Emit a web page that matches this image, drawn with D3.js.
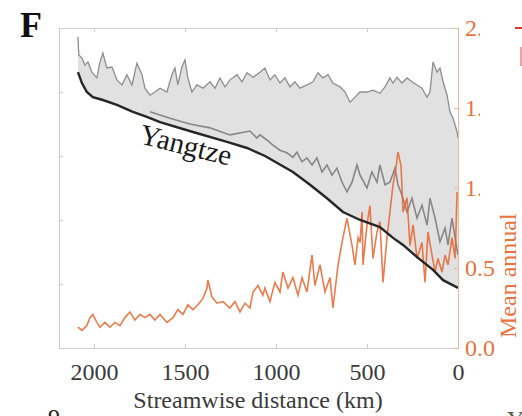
<!DOCTYPE html>
<html>
<head>
<meta charset="utf-8">
<script src="https://cdn.jsdelivr.net/npm/d3@7"></script>
<style>
  html, body { margin: 0; padding: 0; background: #fff; }
  svg { display: block; font-family: "Liberation Serif", "Times New Roman", serif; }
</style>
</head>
<body>
<div id="chart"></div>
<script>
// river long profile (left axis, unlabelled)
const profileKm  = [2088, 2066, 2039, 2006, 1951, 1874, 1786, 1709, 1637, 1456, 1269, 1159, 1060, 907, 813, 720, 632, 538, 429, 357, 302, 225, 137, 82, 0];
const profileVal = [4.31, 4.14, 4.00, 3.92, 3.875, 3.80, 3.69, 3.61, 3.53, 3.375, 3.22, 3.125, 3.0, 2.75, 2.55, 2.34, 2.125, 2.0, 1.89, 1.72, 1.61, 1.42, 1.22, 1.06, 0.94];

// upper envelope (grey)
const upperKm  = [2088, 2083, 2066, 2050, 2033, 2011, 1984, 1967, 1951, 1929, 1901, 1874, 1846, 1819, 1791, 1764, 1736, 1720, 1692, 1665,
                  1637, 1599, 1572, 1555, 1539, 1517, 1500, 1484, 1462, 1434, 1401, 1363, 1335, 1308, 1280, 1253, 1214, 1187, 1159, 1126,
                  1088, 1061, 1033, 1006, 978, 951, 923, 896, 868, 830, 797, 769, 742, 714, 687, 648, 621, 593, 566, 538,
                  500, 467, 429, 401, 374, 357, 335, 308, 280, 253, 225, 198, 170, 154, 137, 115, 99, 82, 60, 44, 27, 5, 0];
const upperVal = [4.86, 4.58, 4.53, 4.42, 4.47, 4.31, 4.22, 4.47, 4.61, 4.375, 4.39, 4.19, 4.11, 4.27, 4.11, 4.45, 4.27, 4.06, 3.95, 4.0,
                  4.06, 4.0, 4.27, 4.375, 4.11, 4.39, 4.5, 4.22, 4.0, 4.11, 4.06, 4.16, 4.06, 4.22, 4.08, 4.19, 4.27, 4.16, 4.30, 4.23,
                  4.31, 4.375, 4.19, 4.27, 4.14, 4.22, 4.08, 4.16, 4.06, 4.11, 4.16, 4.30, 4.22, 4.27, 4.14, 4.08, 4.0, 3.84, 3.92, 4.0,
                  4.0, 4.03, 3.98, 4.08, 4.22, 4.14, 4.23, 4.14, 4.22, 4.16, 4.11, 4.06, 3.92, 4.0, 4.47, 4.31, 4.375, 4.16, 3.95, 3.69, 3.59, 3.375, 3.28];

// lower grey curve
const lowerKm  = [1692, 1583, 1473, 1363, 1253, 1143, 1105, 1088, 1050, 1017, 978, 940, 907, 885, 857, 830, 802, 775, 747, 720,
                  692, 665, 637, 610, 582, 555, 538, 500, 473, 445, 429, 401, 374, 346, 330, 308, 280, 253, 225, 198,
                  170, 154, 126, 99, 71, 55, 33, 16, 0];
const lowerVal = [3.69, 3.59, 3.5, 3.44, 3.33, 3.39, 3.28, 3.33, 3.25, 3.17, 3.09, 3.05, 2.98, 3.06, 2.91, 2.97, 2.86, 2.97, 2.75, 2.86,
                  2.70, 2.81, 2.59, 2.44, 2.59, 2.86, 2.70, 2.5, 2.75, 2.59, 2.86, 2.55, 2.59, 2.81, 2.55, 2.39, 2.125, 2.34, 2.03, 2.23,
                  1.92, 2.34, 2.03, 1.66, 1.875, 1.61, 2.03, 1.72, 1.45];

// mean annual series (right axis, orange)
const annualKm  = [2088, 2066, 2039, 2022, 2006, 1984, 1967, 1940, 1912, 1885, 1857, 1830, 1802, 1775, 1747, 1720, 1692, 1665, 1637, 1599,
                   1566, 1539, 1511, 1484, 1456, 1429, 1401, 1379, 1374, 1352, 1324, 1291, 1253, 1225, 1198, 1170, 1143, 1126, 1099, 1072,
                   1061, 1033, 1006, 978, 962, 934, 907, 879, 857, 830, 802, 786, 758, 731, 703, 687, 659, 632, 610, 582,
                   566, 549, 538, 527, 522, 500, 484, 467, 445, 429, 412, 390, 374, 357, 341, 330, 313, 302, 280, 264,
                   247, 225, 198, 181, 165, 143, 126, 110, 88, 71, 55, 33, 16, 5];
const annualVal = [0.13, 0.11, 0.14, 0.19, 0.21, 0.16, 0.13, 0.16, 0.13, 0.16, 0.14, 0.19, 0.225, 0.175, 0.21, 0.19, 0.21, 0.175, 0.21, 0.16,
                   0.19, 0.24, 0.21, 0.27, 0.24, 0.27, 0.31, 0.375, 0.425, 0.32, 0.28, 0.29, 0.25, 0.29, 0.225, 0.28, 0.25, 0.35, 0.39, 0.33,
                   0.375, 0.29, 0.41, 0.35, 0.475, 0.375, 0.44, 0.33, 0.44, 0.35, 0.58, 0.39, 0.52, 0.35, 0.44, 0.25, 0.52, 0.69, 0.81, 0.64,
                   0.52, 0.69, 0.66, 0.85, 0.52, 0.77, 0.89, 0.56, 0.725, 0.79, 0.41, 0.69, 0.85, 1.02, 1.125, 1.225, 1.14, 0.85, 0.94, 0.64,
                   0.77, 0.56, 0.66, 0.41, 0.725, 0.58, 0.475, 0.56, 0.475, 0.58, 0.52, 0.69, 0.56, 0.975];

const xTicks = [2000, 1500, 1000, 500, 0];
const leftTicks = [0, 1, 2, 3, 4, 5];
const rightTicks = [0, 0.5, 1, 1.5, 2];

const width = 522, height = 416;
const margin = { left: 59, right: 64, top: 28, bottom: 68 };
const plotW = width - margin.left - margin.right;
const plotH = height - margin.top - margin.bottom;
const serif = "Liberation Serif";

const svg = d3.select("#chart").append("svg")
  .attr("width", width)
  .attr("height", height);

const x = d3.scaleLinear().domain([2192, 0]).range([margin.left, margin.left + plotW]);
const yL = d3.scaleLinear().domain([0, 5]).range([margin.top + plotH, margin.top]);
const yR = d3.scaleLinear().domain([0, 2]).range([margin.top + plotH, margin.top]);

const profile = profileKm.map((d, i) => [d, profileVal[i]]);
const upper = upperKm.map((d, i) => [d, upperVal[i]]);
const lower = lowerKm.map((d, i) => [d, lowerVal[i]]);
const annual = annualKm.map((d, i) => [d, annualVal[i]]);

const lineL = d3.line().x(d => x(d[0])).y(d => yL(d[1]));
const lineR = d3.line().x(d => x(d[0])).y(d => yR(d[1]));

// shaded band between profile and upper envelope
svg.append("path")
  .datum(upper.concat(profile.slice().reverse()))
  .attr("d", d => lineL(d) + "Z")
  .attr("fill", "#e1e1e1")
  .attr("stroke", "none");

svg.append("path")
  .datum(upper)
  .attr("d", lineL)
  .attr("fill", "none")
  .attr("stroke", "#8e8e8e")
  .attr("stroke-width", 1.3);

svg.append("path")
  .datum(lower)
  .attr("d", lineL)
  .attr("fill", "none")
  .attr("stroke", "#777")
  .attr("stroke-opacity", 0.85)
  .attr("stroke-width", 1.6);

svg.append("path")
  .datum(annual)
  .attr("d", lineR)
  .attr("fill", "none")
  .attr("stroke", "#e8642e")
  .attr("stroke-opacity", 0.85)
  .attr("stroke-width", 1.6);

svg.append("path")
  .datum(profile)
  .attr("d", lineL)
  .attr("fill", "none")
  .attr("stroke", "#262626")
  .attr("stroke-width", 2.4);

// axes
const frameColor = "#cdcdcd";

const xAxis = svg.append("g")
  .attr("transform", `translate(0, ${margin.top + plotH})`)
  .call(d3.axisBottom(x).tickValues(xTicks).tickSize(-4).tickPadding(15).tickFormat(d3.format("d")))
  .attr("font-family", serif)
  .attr("font-size", 24);
xAxis.select(".domain").attr("stroke", frameColor);
xAxis.selectAll(".tick line").attr("stroke", frameColor);
xAxis.selectAll(".tick text").attr("fill", "#3a3a3a");

const topAxis = svg.append("g")
  .attr("transform", `translate(0, ${margin.top})`)
  .call(d3.axisTop(x).tickValues(xTicks).tickSize(-4).tickFormat(""));
topAxis.select(".domain").attr("stroke", frameColor);
topAxis.selectAll(".tick line").attr("stroke", frameColor);

const leftAxis = svg.append("g")
  .attr("transform", `translate(${margin.left}, 0)`)
  .call(d3.axisLeft(yL).tickValues(leftTicks).tickSize(-4).tickFormat(""));
leftAxis.select(".domain").attr("stroke", frameColor);
leftAxis.selectAll(".tick line").attr("stroke", frameColor);

const rightAxis = svg.append("g")
  .attr("transform", `translate(${margin.left + plotW}, 0)`)
  .call(d3.axisRight(yR).tickValues(rightTicks).tickSize(-4).tickPadding(7).tickFormat(d3.format(".1f")))
  .attr("font-family", serif)
  .attr("font-size", 24);
rightAxis.select(".domain").attr("stroke", "#f3b89c");
rightAxis.selectAll(".tick line").attr("stroke", "#f3b89c");
rightAxis.selectAll(".tick text").attr("fill", "#e9733f");

// axis titles
svg.append("text")
  .attr("x", 258)
  .attr("y", 408)
  .attr("text-anchor", "middle")
  .attr("fill", "#3a3a3a")
  .style("font-size", "24px")
  .text("Streamwise distance (km)");

svg.append("text")
  .attr("transform", "translate(516, 338) rotate(-90)")
  .attr("text-anchor", "start")
  .attr("fill", "#e9733f")
  .style("font-size", "24px")
  .text("Mean annual");

// river label
svg.append("text")
  .attr("transform", "translate(138, 143) rotate(14)")
  .attr("fill", "#1a1a1a")
  .style("font-size", "29px")
  .text("Yangtze");

// panel letter
svg.append("text")
  .attr("x", 20)
  .attr("y", 37)
  .attr("fill", "#111")
  .style("font-size", "36px")
  .style("font-weight", "bold")
  .text("F");

// neighbouring panel covers the right edge
svg.append("rect")
  .attr("x", 480)
  .attr("y", 0)
  .attr("width", 42)
  .attr("height", 208)
  .attr("fill", "#fff");

svg.append("line")
  .attr("x1", 515).attr("x2", 522)
  .attr("y1", 28).attr("y2", 28)
  .attr("stroke", "#d93a2a")
  .attr("stroke-width", 2);
svg.append("line")
  .attr("x1", 521).attr("x2", 521)
  .attr("y1", 47).attr("y2", 66)
  .attr("stroke", "#f0a0a0")
  .attr("stroke-width", 2);

// fragments of neighbouring panels along the bottom
svg.append("text")
  .attr("x", 48)
  .attr("y", 425)
  .attr("fill", "#222")
  .style("font-size", "24px")
  .text("9");
svg.append("text")
  .attr("x", 507)
  .attr("y", 427)
  .attr("fill", "#555")
  .style("font-size", "24px")
  .text("Y");
</script>
</body>
</html>
